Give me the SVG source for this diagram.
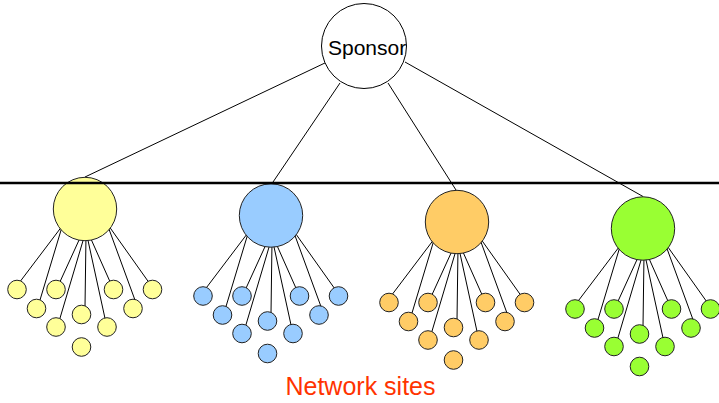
<svg xmlns="http://www.w3.org/2000/svg" width="719" height="403" viewBox="0 0 719 403">
  <style>
    .link { stroke: #000; stroke-width: 1; fill: none; }
    .node { stroke: #222; stroke-width: 1; }
    .yellow { fill: #FFFF99; }
    .blue { fill: #99CCFF; }
    .orange { fill: #FFCC66; }
    .green { fill: #99FF33; }
    .label { font-family: "Liberation Sans", Arial, sans-serif; }
  </style>

  <!-- connectors: sponsor to sites, and each site to its members -->
  <g id="connectors" class="link">
    <line x1="327" y1="62" x2="85" y2="177"/>
    <line x1="340" y1="83" x2="272" y2="183.5"/>
    <line x1="388" y1="83" x2="456" y2="190"/>
    <line x1="405" y1="62" x2="643" y2="196.5"/>
    <g id="fan-yellow" transform="translate(85 209)">
      <line x1="-22.3" y1="16.3" x2="-66.2" y2="74.3"/>
      <line x1="-23.4" y1="19.3" x2="-45.6" y2="93"/>
      <line x1="-4.2" y1="27.2" x2="-25.8" y2="74.5"/>
      <line x1="-0.6" y1="27" x2="-25.6" y2="111.2"/>
      <line x1="1" y1="26" x2="0" y2="98"/>
      <line x1="2" y1="26.8" x2="20.4" y2="111.2"/>
      <line x1="4.3" y1="26.2" x2="25.8" y2="74.5"/>
      <line x1="22.9" y1="17.1" x2="50.7" y2="93"/>
      <line x1="23.2" y1="16.1" x2="64.5" y2="74.3"/>
    </g>
    <g id="fan-blue" transform="translate(271 215.5)">
      <line x1="-22.3" y1="16.3" x2="-66.2" y2="74.3"/>
      <line x1="-23.4" y1="19.3" x2="-45.6" y2="93"/>
      <line x1="-4.2" y1="27.2" x2="-25.8" y2="74.5"/>
      <line x1="-0.6" y1="27" x2="-25.6" y2="111.2"/>
      <line x1="1" y1="26" x2="0" y2="98"/>
      <line x1="2" y1="26.8" x2="20.4" y2="111.2"/>
      <line x1="4.3" y1="26.2" x2="25.8" y2="74.5"/>
      <line x1="22.9" y1="17.1" x2="50.7" y2="93"/>
      <line x1="23.2" y1="16.1" x2="64.5" y2="74.3"/>
    </g>
    <g id="fan-orange" transform="translate(457 222)">
      <line x1="-22.3" y1="16.3" x2="-66.2" y2="74.3"/>
      <line x1="-23.4" y1="19.3" x2="-45.6" y2="93"/>
      <line x1="-4.2" y1="27.2" x2="-25.8" y2="74.5"/>
      <line x1="-0.6" y1="27" x2="-25.6" y2="111.2"/>
      <line x1="1" y1="26" x2="0" y2="98"/>
      <line x1="2" y1="26.8" x2="20.4" y2="111.2"/>
      <line x1="4.3" y1="26.2" x2="25.8" y2="74.5"/>
      <line x1="22.9" y1="17.1" x2="50.7" y2="93"/>
      <line x1="23.2" y1="16.1" x2="64.5" y2="74.3"/>
    </g>
    <g id="fan-green" transform="translate(643 228.5)">
      <line x1="-22.3" y1="16.3" x2="-66.2" y2="74.3"/>
      <line x1="-23.4" y1="19.3" x2="-45.6" y2="93"/>
      <line x1="-4.2" y1="27.2" x2="-25.8" y2="74.5"/>
      <line x1="-0.6" y1="27" x2="-25.6" y2="111.2"/>
      <line x1="1" y1="26" x2="0" y2="98"/>
      <line x1="2" y1="26.8" x2="20.4" y2="111.2"/>
      <line x1="4.3" y1="26.2" x2="25.8" y2="74.5"/>
      <line x1="22.9" y1="17.1" x2="50.7" y2="93"/>
      <line x1="23.2" y1="16.1" x2="64.5" y2="74.3"/>
    </g>
  </g>

  <!-- sponsor -->
  <g id="sponsor">
    <circle cx="364" cy="46" r="42.5" fill="#fff" stroke="#000" stroke-width="1"/>
    <text class="label" x="328" y="55" font-size="21" fill="#000">Sponsor</text>
  </g>

  <!-- site 1 -->
  <g id="site-yellow" class="node yellow" transform="translate(85 209)">
    <circle id="y0" r="31.7"/>
    <circle id="y1" cx="-68" cy="80.5" r="9.3"/>
    <circle id="y2" cx="-48.5" cy="99.5" r="9.3"/>
    <circle id="y3" cx="-29" cy="80.5" r="9.3"/>
    <circle id="y4" cx="-29" cy="118" r="9.3"/>
    <circle id="y5" cx="-3.5" cy="105.5" r="9.3"/>
    <circle id="y6" cx="-3.5" cy="138" r="9.3"/>
    <circle id="y7" cx="22" cy="118" r="9.3"/>
    <circle id="y8" cx="28.5" cy="80.5" r="9.3"/>
    <circle id="y9" cx="48" cy="99.5" r="9.3"/>
    <circle id="y10" cx="67.5" cy="80.5" r="9.3"/>
  </g>

  <!-- site 2 -->
  <g id="site-blue" class="node blue" transform="translate(271 215.5)">
    <circle id="b0" r="31.7"/>
    <circle id="b1" cx="-68" cy="80.5" r="9.3"/>
    <circle id="b2" cx="-48.5" cy="99.5" r="9.3"/>
    <circle id="b3" cx="-29" cy="80.5" r="9.3"/>
    <circle id="b4" cx="-29" cy="118" r="9.3"/>
    <circle id="b5" cx="-3.5" cy="105.5" r="9.3"/>
    <circle id="b6" cx="-3.5" cy="138" r="9.3"/>
    <circle id="b7" cx="22" cy="118" r="9.3"/>
    <circle id="b8" cx="28.5" cy="80.5" r="9.3"/>
    <circle id="b9" cx="48" cy="99.5" r="9.3"/>
    <circle id="b10" cx="67.5" cy="80.5" r="9.3"/>
  </g>

  <!-- site 3 -->
  <g id="site-orange" class="node orange" transform="translate(457 222)">
    <circle id="o0" r="31.7"/>
    <circle id="o1" cx="-68" cy="80.5" r="9.3"/>
    <circle id="o2" cx="-48.5" cy="99.5" r="9.3"/>
    <circle id="o3" cx="-29" cy="80.5" r="9.3"/>
    <circle id="o4" cx="-29" cy="118" r="9.3"/>
    <circle id="o5" cx="-3.5" cy="105.5" r="9.3"/>
    <circle id="o6" cx="-3.5" cy="138" r="9.3"/>
    <circle id="o7" cx="22" cy="118" r="9.3"/>
    <circle id="o8" cx="28.5" cy="80.5" r="9.3"/>
    <circle id="o9" cx="48" cy="99.5" r="9.3"/>
    <circle id="o10" cx="67.5" cy="80.5" r="9.3"/>
  </g>

  <!-- site 4 -->
  <g id="site-green" class="node green" transform="translate(643 228.5)">
    <circle id="g0" r="31.7"/>
    <circle id="g1" cx="-68" cy="80.5" r="9.3"/>
    <circle id="g2" cx="-48.5" cy="99.5" r="9.3"/>
    <circle id="g3" cx="-29" cy="80.5" r="9.3"/>
    <circle id="g4" cx="-29" cy="118" r="9.3"/>
    <circle id="g5" cx="-3.5" cy="105.5" r="9.3"/>
    <circle id="g6" cx="-3.5" cy="138" r="9.3"/>
    <circle id="g7" cx="22" cy="118" r="9.3"/>
    <circle id="g8" cx="28.5" cy="80.5" r="9.3"/>
    <circle id="g9" cx="48" cy="99.5" r="9.3"/>
    <circle id="g10" cx="67.5" cy="80.5" r="9.3"/>
  </g>

  <!-- boundary rule across the page -->
  <line id="divider" x1="0" y1="183" x2="719" y2="183" stroke="#000" stroke-width="2.5"/>

  <text id="caption" class="label" x="360.5" y="395" font-size="25" fill="#FF3300" text-anchor="middle">Network sites</text>
</svg>
